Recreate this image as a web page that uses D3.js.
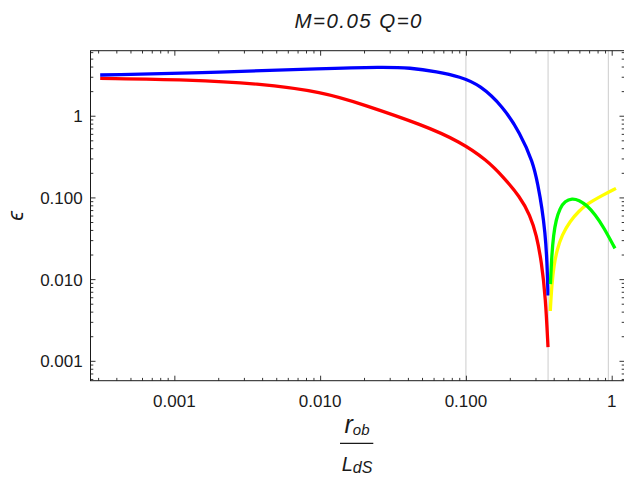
<!doctype html>
<html>
<head>
<meta charset="utf-8">
<title>M=0.05 Q=0</title>
<script src="https://cdn.jsdelivr.net/npm/d3@7"></script>
<style>
  body { margin: 0; background: #fff; }
  text { font-family: "Liberation Sans", Arial, sans-serif; fill: #1a1a1a; }
  .grid { stroke: #cccccc; stroke-width: 1; }
  .curve { fill: none; stroke-width: 3.3; stroke-linecap: butt; stroke-linejoin: round; }
</style>
</head>
<body>
<script>
// tick values and labels
var xMajor = [0.001, 0.01, 0.1, 1];
var xLabels = ["0.001", "0.010", "0.100", "1"];
var yMajor = [0.001, 0.01, 0.1, 1];
var yLabels = ["0.001", "0.010", "0.100", "1"];
var gridX = [0.1, 0.366, 0.948];

// series: [r_ob/L_dS, epsilon]
var blue = [
  [3.10e-4, 3.15], [2.16e-3, 3.40], [0.0105, 3.80], [0.0270, 3.95],
  [0.0413, 3.87], [0.0634, 3.46], [0.0912, 3.00], [0.125, 2.38],
  [0.180, 1.29], [0.235, 0.614], [0.2885, 0.271], [0.312, 0.142],
  [0.3326, 0.0742], [0.3487, 0.0377], [0.3599, 0.0171], [0.3657, 0.0063]
];
var red = [
  [3.10e-4, 2.87], [1.28e-3, 2.76], [3.69e-3, 2.49], [0.0105, 1.95],
  [0.0197, 1.37], [0.0508, 0.769], [0.0912, 0.481], [0.139, 0.287],
  [0.180, 0.179], [0.235, 0.102], [0.2752, 0.0609], [0.3049, 0.0347],
  [0.330, 0.0162], [0.3515, 0.00604], [0.3657, 0.00147]
];
var yellow = [
  [0.379, 0.00407], [0.388, 0.00847], [0.402, 0.0149], [0.4215, 0.0227],
  [0.456, 0.0347], [0.518, 0.0514], [0.597, 0.0682], [0.677, 0.083],
  [0.872, 0.107], [1.070, 0.129]
];
var green = [
  [0.380, 0.0087], [0.388, 0.0197], [0.399, 0.0347], [0.415, 0.0529],
  [0.442, 0.0742], [0.478, 0.0904], [0.534, 0.0975], [0.597, 0.0929],
  [0.677, 0.0796], [0.769, 0.0618], [0.876, 0.0438], [1.053, 0.0238]
];

var width = 624, height = 477;
var pL = 90.5, pR = 624.5, pT = 50.7, pB = 380.7;

var svg = d3.select('body').append('svg')
    .attr('width', width)
    .attr('height', height);

svg.append('rect').attr('width', width).attr('height', height).attr('fill', '#fff');

var x = d3.scaleLog().domain([2.66e-4, 1.224]).range([pL, pR]);
var y = d3.scaleLog().domain([5.71e-4, 6.25]).range([pB, pT]);

function minors(domain) {
  var out = [];
  [1e-4, 1e-3, 1e-2, 1e-1, 1].forEach(function(d) {
    for (var k = 2; k <= 9; k++) {
      var v = d * k;
      if (v > domain[0] && v < domain[1]) out.push(v);
    }
  });
  return out;
}

// vertical grid lines
svg.selectAll('line.grid').data(gridX).enter().append('line')
    .attr('class', 'grid')
    .attr('x1', function(d) { return x(d); })
    .attr('x2', function(d) { return x(d); })
    .attr('y1', pT).attr('y2', pB);

// ticks on all four sides, pointing inward
function ticks(axis, tr, vals, size) {
  var g = svg.append('g').attr('transform', tr)
      .call(axis.tickValues(vals).tickSize(size).tickFormat(''));
  g.select('.domain').remove();
  g.selectAll('text').remove();
  g.selectAll('line').attr('stroke', '#333');
  return g;
}
ticks(d3.axisBottom(x), 'translate(0,' + pB + ')', xMajor, -5);
ticks(d3.axisBottom(x), 'translate(0,' + pB + ')', minors(x.domain()), -2.8);
ticks(d3.axisTop(x), 'translate(0,' + pT + ')', xMajor, -5);
ticks(d3.axisTop(x), 'translate(0,' + pT + ')', minors(x.domain()), -2.8);
ticks(d3.axisLeft(y), 'translate(' + pL + ',0)', yMajor, -5);
ticks(d3.axisLeft(y), 'translate(' + pL + ',0)', minors(y.domain()), -2.8);
ticks(d3.axisRight(y), 'translate(' + pR + ',0)', yMajor, -5);
ticks(d3.axisRight(y), 'translate(' + pR + ',0)', minors(y.domain()), -2.8);

// tick labels
svg.selectAll('text.xl').data(xMajor).enter().append('text')
    .attr('class', 'xl')
    .attr('x', function(d) { return x(d); })
    .attr('y', pB + 25.8)
    .attr('text-anchor', 'middle')
    .style('font-size', '17px')
    .text(function(d, i) { return xLabels[i]; });

svg.selectAll('text.yl').data(yMajor).enter().append('text')
    .attr('class', 'yl')
    .attr('x', pL - 7.8)
    .attr('y', function(d) { return y(d) + 6.6; })
    .attr('text-anchor', 'end')
    .style('font-size', '17px')
    .text(function(d, i) { return yLabels[i]; });

// curves (B-spline through the read points smooths out reading noise)
var line = d3.line()
    .x(function(d) { return x(d[0]); })
    .y(function(d) { return y(d[1]); })
    .curve(d3.curveBasis);

[[red, '#ff0000'], [blue, '#0000ff'], [yellow, '#ffff00'], [green, '#00ff00']].forEach(function(s) {
  svg.append('path').attr('class', 'curve')
      .attr('d', line(s[0]))
      .attr('stroke', s[1]);
});

// frame
svg.append('rect')
    .attr('x', pL).attr('y', pT)
    .attr('width', pR - pL).attr('height', pB - pT)
    .attr('fill', 'none').attr('stroke', '#1a1a1a').attr('stroke-width', 1);

// title
svg.append('text')
    .attr('x', 358).attr('y', 28.3)
    .attr('text-anchor', 'middle')
    .attr('textLength', 127).attr('lengthAdjust', 'spacing')
    .style('font-size', '20.5px').style('font-style', 'italic')
    .text('M=0.05 Q=0');

// y label
svg.append('text')
    .attr('transform', 'translate(23,216) rotate(-90)')
    .attr('text-anchor', 'middle')
    .style('font-size', '22px').style('font-style', 'italic')
    .text('ϵ');

// x label: r_ob / L_dS
var xl = svg.append('g');
var num = xl.append('text').attr('y', 433.3).attr('text-anchor', 'middle').attr('x', 357)
    .style('font-style', 'italic');
num.append('tspan').style('font-size', '25px').text('r');
num.append('tspan').style('font-size', '15px').attr('dy', 2).text('ob');
xl.append('line')
    .attr('x1', 340).attr('x2', 373.3).attr('y1', 443.3).attr('y2', 443.3)
    .attr('stroke', '#1a1a1a').attr('stroke-width', 1.2);
var den = xl.append('text').attr('y', 471).attr('text-anchor', 'middle').attr('x', 357)
    .style('font-style', 'italic');
den.append('tspan').style('font-size', '20px').text('L');
den.append('tspan').style('font-size', '16px').attr('dy', 2.3).text('dS');
</script>
</body>
</html>
